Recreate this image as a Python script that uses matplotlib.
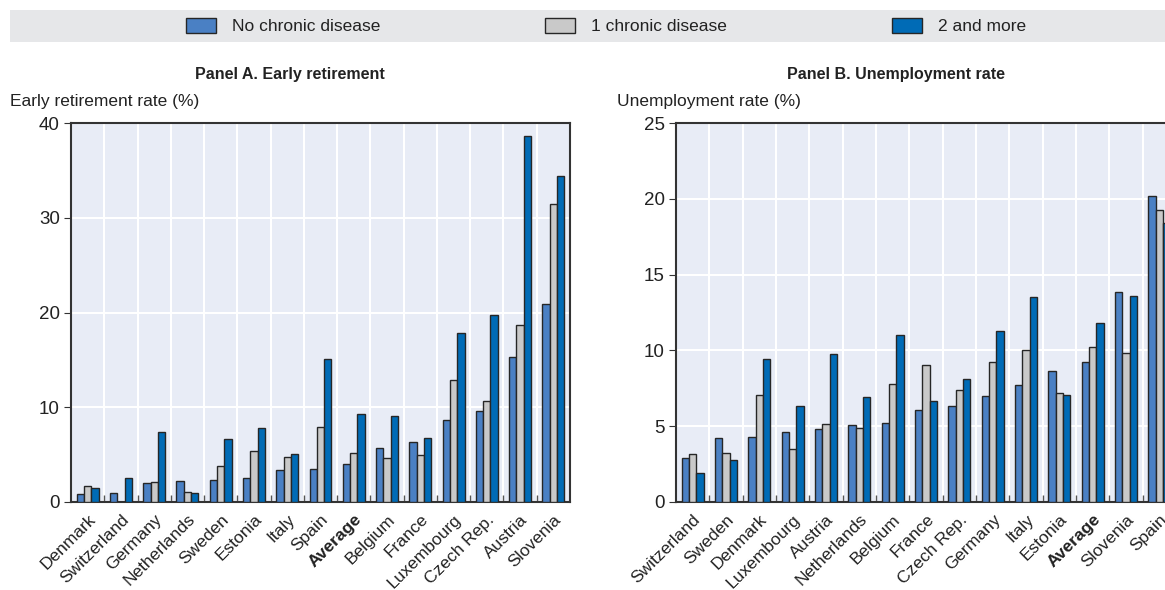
import matplotlib
matplotlib.use("Agg")
import matplotlib.pyplot as plt
from matplotlib.patches import Rectangle, Patch
import numpy as np

plt.rcParams['font.family'] = ['Liberation Sans', 'DejaVu Sans']

# Panel A: early retirement rate (%)
countries_a = ["Denmark", "Switzerland", "Germany", "Netherlands", "Sweden", "Estonia",
               "Italy", "Spain", "Average", "Belgium", "France", "Luxembourg",
               "Czech Rep.", "Austria", "Slovenia"]
a_none = [0.8, 1.0, 2.0, 2.25, 2.3, 2.5, 3.35, 3.5, 4.0, 5.7, 6.3, 8.7, 9.6, 15.35, 20.9]
a_one = [1.7, 0.0, 2.15, 1.05, 3.8, 5.35, 4.8, 7.9, 5.2, 4.6, 5.0, 12.85, 10.65, 18.7, 31.4]
a_two = [1.5, 2.5, 7.35, 1.0, 6.6, 7.85, 5.1, 15.1, 9.25, 9.1, 6.8, 17.8, 19.7, 38.6, 34.4]

# Panel B: unemployment rate (%)
countries_b = ["Switzerland", "Sweden", "Denmark", "Luxembourg", "Austria", "Netherlands",
               "Belgium", "France", "Czech Rep.", "Germany", "Italy", "Estonia",
               "Average", "Slovenia", "Spain"]
b_none = [2.9, 4.25, 4.3, 4.65, 4.8, 5.1, 5.2, 6.1, 6.35, 7.0, 7.7, 8.65, 9.25, 13.85, 20.2]
b_one = [3.15, 3.25, 7.05, 3.5, 5.15, 4.9, 7.8, 9.05, 7.4, 9.25, 10.0, 7.2, 10.25, 9.8, 19.25]
b_two = [1.9, 2.8, 9.4, 6.3, 9.75, 6.9, 11.0, 6.65, 8.1, 11.3, 13.55, 7.05, 11.8, 13.6, 18.4]

series_labels = ["No chronic disease", "1 chronic disease", "2 and more"]
colors = ["#4a80c4", "#c9c9c9", "#006bb6"]

W, H = 1165, 590
fig = plt.figure(figsize=(W / 100, H / 100), dpi=100)


def draw_panel(rect, cats, vals, ymax, step, title, ylab, ylab_x, title_x):
    ax = fig.add_axes(rect)
    ax.set_facecolor("#e8ecf6")
    x = np.arange(len(cats))
    w = 0.22
    for k, v in enumerate(vals):
        ax.bar(x + (k - 1) * w, v, width=w, color=colors[k], edgecolor="#262626",
               linewidth=1.0, zorder=3)
    ax.set_xlim(-0.5, len(cats) - 0.5)
    ax.set_ylim(0, ymax)
    ax.set_yticks(np.arange(0, ymax + 0.1, step))
    ax.set_xticks(x)
    ax.set_xticklabels(cats, rotation=45, ha="right", rotation_mode="anchor",
                       fontsize=12.5, color="#222222")
    for lbl in ax.get_xticklabels():
        if lbl.get_text() == "Average":
            lbl.set_fontweight("bold")
    ax.set_xticks(np.arange(0.5, len(cats) - 1, 1.0), minor=True)
    ax.tick_params(axis="x", which="major", length=0, pad=7)
    ax.tick_params(axis="x", which="minor", direction="in", length=5, color="#555555", width=1)
    ax.tick_params(axis="y", direction="out", length=5, color="#333333", labelsize=13.5,
                   labelcolor="#222222", pad=3)
    ax.grid(axis="y", which="major", color="white", linewidth=1.5, zorder=0)
    ax.grid(axis="x", which="minor", color="white", linewidth=1.5, zorder=0)
    for s in ax.spines.values():
        s.set_color("#333333")
        s.set_linewidth(1.5)
    fig.text(title_x / W, 1 - 74 / H, title, ha="center", va="center",
             fontsize=11.5, fontweight="bold", color="#222222")
    fig.text(ylab_x / W, 1 - 102 / H, ylab, ha="left", va="center", fontsize=12.5,
             color="#222222")
    return ax


ax_a = draw_panel([71 / W, 1 - 502 / H, 499 / W, 379 / H], countries_a,
                  [a_none, a_one, a_two], 40, 10, "Panel A. Early retirement",
                  "Early retirement rate (%)", 10, 290)
ax_b = draw_panel([676 / W, 1 - 502 / H, 500 / W, 379 / H], countries_b,
                  [b_none, b_one, b_two], 25, 5, "Panel B. Unemployment rate",
                  "Unemployment rate (%)", 617, 896)

# legend band
fig.add_artist(Rectangle((10 / W, 1 - 42 / H), 1155 / W, 32 / H, transform=fig.transFigure,
                         facecolor="#e6e7e9", edgecolor="none", zorder=0))
handles = [Patch(facecolor=c, edgecolor="#262626", linewidth=1.0) for c in colors]
fig.legend(handles, series_labels, loc="center left", bbox_to_anchor=(170 / W, 1 - 26 / H),
           ncol=3, frameon=False, fontsize=12.5, handlelength=1.75, handleheight=1.0,
           handletextpad=0.9, columnspacing=9.5, labelcolor="#222222")

fig.savefig("out.png", dpi=100)
